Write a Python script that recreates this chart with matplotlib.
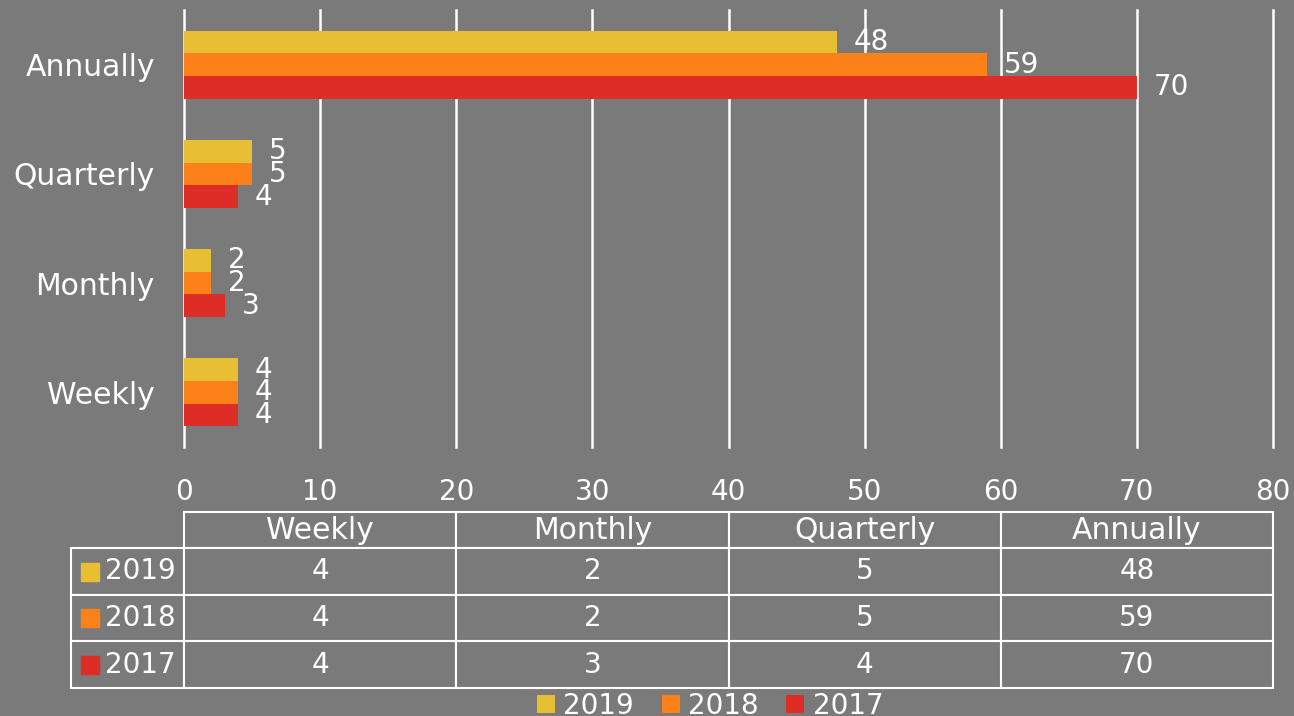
import matplotlib
matplotlib.use("Agg")
import matplotlib.pyplot as plt
from matplotlib.patches import Rectangle
import numpy as np

categories = ["Weekly", "Monthly", "Quarterly", "Annually"]
years = ["2019", "2018", "2017"]
v2019 = [4, 2, 5, 48]
v2018 = [4, 2, 5, 59]
v2017 = [4, 3, 4, 70]
values = [v2019, v2018, v2017]
colors = ["#E8BE32", "#FD811B", "#DE2D26"]
bg = "#7A7A7A"

plt.rcParams['font.family'] = ['DejaVu Sans']
fs = 20      # numbers
fs_w = 21.5  # words

fig = plt.figure(figsize=(12.94, 7.16), dpi=100, facecolor=bg)
ax = fig.add_axes([184/1294, 1-447/716, 1089/1294, 437/716])
ax.set_facecolor(bg)

y = np.arange(len(categories))
h = 0.208
bars = []
for i, (yr, vals, c) in enumerate(zip(years, values, colors)):
    b = ax.barh(y + (1-i)*h, vals, height=h, color=c, label=yr, zorder=3)
    bars.append(b)
    ax.bar_label(b, padding=12, color="white", fontsize=fs)

ax.set_xlim(0, 80)
ax.set_ylim(-0.5, 3.5)
ax.set_xticks(range(0, 81, 10))
ax.set_yticks(y)
ax.set_yticklabels(categories, fontsize=fs_w)
ax.tick_params(axis="both", length=0, colors="white")
ax.tick_params(axis="x", labelsize=fs, pad=22)
ax.tick_params(axis="y", pad=21)
ax.grid(axis="x", color="white", linewidth=1.8, zorder=1)
for gl in ax.get_xgridlines():
    gl.set_clip_on(False)
for s in ax.spines.values():
    s.set_visible(False)

# data table under the chart (bbox covers the data columns, row labels sit left of it)
cell_text = [[str(v) for v in vals] for vals in values]
tb = ax.table(cellText=cell_text, colLabels=categories, cellLoc="center",
              colWidths=[0.25]*4,
              bbox=[0, (447-688)/437, 1, (688-512)/437])
for r, yr in enumerate(years, start=1):
    cell = tb.add_cell(r, -1, 113/1089, 46.5, text=yr, loc="right")
    cell.PAD = 0.07
tb.auto_set_font_size(False)
for (r, c), cell in tb.get_celld().items():
    cell.set_facecolor(bg)
    cell.set_edgecolor("white")
    cell.set_linewidth(1.5)
    cell.get_text().set_color("white")
    cell.get_text().set_fontsize(fs_w if r == 0 else fs)
    cell.set_height(36 if r == 0 else 46.5)

# colour keys in the row label cells
row_mid = [571.5, 618, 664.5]
for ym, c in zip(row_mid, colors):
    ax.add_patch(Rectangle(((81-184)/1089, (447-ym-9)/437), 18/1089, 18/437,
                           transform=ax.transAxes, color=c, clip_on=False, zorder=5))

leg = fig.legend(handles=bars, labels=years, loc="lower center", ncol=3,
                 bbox_to_anchor=(710/1294, -0.04), frameon=False,
                 handlelength=0.65, handleheight=0.65, handletextpad=0.3,
                 columnspacing=1.0, prop={"size": fs})
for t in leg.get_texts():
    t.set_color("white")

fig.savefig("out.png", dpi=100, facecolor=bg)
